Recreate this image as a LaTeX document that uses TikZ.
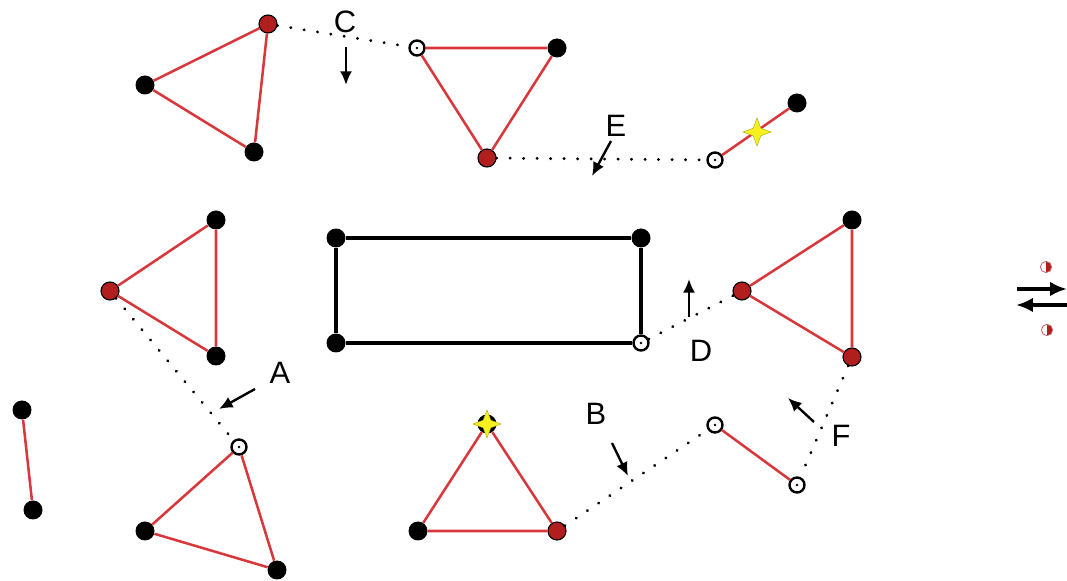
\documentclass[tikz,border=0pt]{standalone}
\usepackage{fontspec}
\setmainfont{Liberation Sans}
\usetikzlibrary{arrows.meta,shapes.geometric}
\definecolor{BondRed}{HTML}{D8383C}
\definecolor{SiteRed}{HTML}{B01E1E}
\definecolor{StarYellow}{HTML}{F5F01E}

\begin{document}
\begin{tikzpicture}[x=0.25mm, y=-0.25mm,
  full/.style={circle, fill=black, inner sep=0pt, minimum size=19*0.25mm},
  red/.style={circle, draw=black, line width=0.8pt, fill=SiteRed, inner sep=0pt, minimum size=18*0.25mm},
  open/.style={circle, draw=black, line width=1.7pt, fill=white, inner sep=0pt, minimum size=15*0.25mm,
    path picture={\fill[black] (path picture bounding box.center) circle (0.35mm);}},
  half/.style={circle, draw=SiteRed!70, line width=0.6pt, fill=white, inner sep=0pt, minimum size=2.8mm,
    path picture={\fill[SiteRed] (path picture bounding box.north) rectangle (path picture bounding box.south east);}},
  bond/.style={BondRed, line width=1.8pt},
  frame/.style={black, line width=2.4pt},
  link/.style={black, line width=2.2pt, line cap=round, dash pattern=on 0.1pt off 9.5pt},
  hint/.style={-{Latex[length=3.4mm, width=3mm]}, line width=1.7pt},
  swap/.style={-{Latex[length=4.2mm, width=3.6mm]}, line width=2.4pt},
  tag/.style={font=\fontsize{22}{24}\selectfont},
  spark/.style={star, star points=4, star point ratio=2.6, fill=StarYellow, draw=StarYellow!70!black, line width=0.3pt, inner sep=0pt, minimum size=28*0.25mm}]
\useasboundingbox (0,0) rectangle (1067,581);

% Top left triangle
\node[red] (tlA) at (268,24) {};
\node[full] (tlB) at (145,85) {};
\node[full] (tlC) at (254,152) {};
\draw[bond] (tlA) -- (tlB) -- (tlC) -- (tlA);

% Top middle triangle
\node[open] (tmA) at (417,48) {};
\node[full] (tmB) at (557,48) {};
\node[red] (tmC) at (487,158) {};
\draw[bond] (tmA) -- (tmB) -- (tmC) -- (tmA);

% Top right pair
\node[open] (trA) at (715,160) {};
\node[full] (trB) at (797,103) {};
\draw[bond] (trA) -- (trB);
\node[spark] (trS) at (757,132) {};

% Central rectangle
\node[full] (rcA) at (336,238) {};
\node[full] (rcB) at (641,238) {};
\node[open] (rcC) at (641,343) {};
\node[full] (rcD) at (336,343) {};
\draw[frame] (rcA) -- (rcB) -- (rcC) -- (rcD) -- (rcA);

% Left triangle
\node[full] (lfA) at (216,220) {};
\node[red] (lfB) at (110,291) {};
\node[full] (lfC) at (216,356) {};
\draw[bond] (lfA) -- (lfB) -- (lfC) -- (lfA);

% Right triangle
\node[full] (rtA) at (852,220) {};
\node[red] (rtB) at (742,291) {};
\node[red] (rtC) at (852,357) {};
\draw[bond] (rtA) -- (rtB) -- (rtC) -- (rtA);

% Left pair
\node[full] (lpA) at (22,410) {};
\node[full] (lpB) at (33,510) {};
\draw[bond] (lpA) -- (lpB);

% Bottom left triangle
\node[open] (blA) at (239,447) {};
\node[full] (blB) at (145,531) {};
\node[full] (blC) at (277,570) {};
\draw[bond] (blA) -- (blB) -- (blC) -- (blA);

% Bottom middle triangle
\node[full] (bmA) at (487,424) {};
\node[full] (bmB) at (418,531) {};
\node[red] (bmC) at (557,531) {};
\draw[bond] (bmA) -- (bmB) -- (bmC) -- (bmA);
\node[spark] (bmS) at (487,424) {};

% Bottom right pair
\node[open] (brA) at (715,425) {};
\node[open] (brB) at (797,485) {};
\draw[bond] (brA) -- (brB);

% Dotted links
\draw[link] (tlA) -- (tmA);
\draw[link] (tmC) -- (trA);
\draw[link] (lfB) -- (blA);
\draw[link] (bmC) -- (brA);
\draw[link] (rcC) -- (rtB);
\draw[link] (rtC) -- (brB);

% Labels and arrows
\node[tag] (labC) at (345,22) {C};
\draw[hint] (346,47) -- (346,85);
\node[tag] (labE) at (616,126) {E};
\draw[hint] (611,141) -- (592,176);
\node[tag] (labA) at (280,373) {A};
\draw[hint] (255,389) -- (219,409);
\node[tag] (labB) at (596,414) {B};
\draw[hint] (612,443) -- (628,476);
\node[tag] (labD) at (701,351) {D};
\draw[hint] (689,317) -- (689,279);
\node[tag] (labF) at (841,436) {F};
\draw[hint] (814,422) -- (788,398);

% Equilibrium sign
\node[half] (eqA) at (1046,267) {};
\node[half] (eqB) at (1047,330) {};
\draw[swap] (1017,289) -- (1067,289);
\draw[swap] (1067,305) -- (1016,305);
\end{tikzpicture}
\end{document}
